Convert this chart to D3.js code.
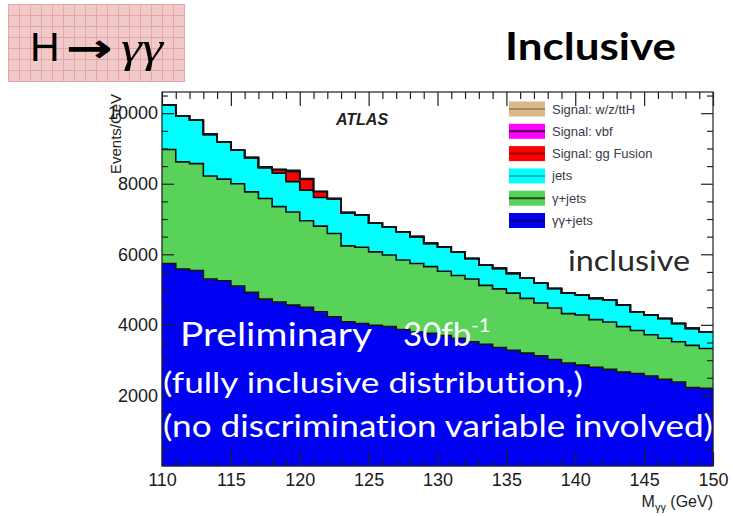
<!DOCTYPE html>
<html>
<head>
<meta charset="utf-8">
<script src="https://cdn.jsdelivr.net/npm/d3@7"></script>
<style>
  body { margin: 0; background: #fff; }
  svg { display: block; }
  text { font-variant-ligatures: none; }
</style>
</head>
<body>
<svg id="chart" width="733" height="516"></svg>
<script>
// Diphoton invariant mass, 1 GeV bins from 110 to 150 GeV (lower edges)
const binLow = [110,111,112,113,114,115,116,117,118,119,120,121,122,123,124,125,126,127,128,129,
                130,131,132,133,134,135,136,137,138,139,140,141,142,143,144,145,146,147,148,149];

// Events/GeV per bin for each stacked component (bottom to top)
const diphotonJets = [5740,5580,5540,5300,5250,5100,4920,4730,4650,4560,4500,4370,4230,4090,4040,3990,3950,3870,3800,3760,
                      3700,3620,3520,3450,3360,3280,3200,3120,3020,2920,2860,2800,2740,2660,2620,2550,2460,2380,2220,2200];
const photonJets   = [3230,3040,3030,2920,2880,2900,2850,2850,2700,2640,2450,2430,2360,2150,2160,2080,2030,1970,1940,1890,
                      1820,1780,1780,1670,1660,1620,1550,1500,1460,1400,1420,1350,1340,1290,1220,1170,1160,1140,1200,1130];
const jets         = [1260,1300,1230,1180,1060,950,970,870,950,860,870,810,970,940,910,810,800,800,760,660,
                      690,670,580,570,580,560,570,560,550,580,560,600,620,610,530,560,560,520,480,470];
const signalGG     = [0,0,0,0,0,0,0,20,100,280,300,170,20,0,0,0,0,0,0,0,
                      0,0,0,0,0,0,0,0,0,0,0,0,0,0,0,0,0,0,0,0];
const signalVBF    = [0,0,0,0,0,0,0,0,0,30,20,0,0,0,0,0,0,0,0,0,
                      0,0,0,0,0,0,0,0,0,0,0,0,0,0,0,0,0,0,0,0];
const signalVH     = [0,0,0,0,0,0,0,0,0,10,10,0,0,0,0,0,0,0,0,0,
                      0,0,0,0,0,0,0,0,0,0,0,0,0,0,0,0,0,0,0,0];

const seriesKeys   = ["diphotonJets","photonJets","jets","signalGG","signalVBF","signalVH"];
const seriesLabels = ["γγ+jets","γ+jets","jets","Signal: gg Fusion","Signal: vbf","Signal: w/z/ttH"];
const seriesColors = ["#0000f2","#58d258","#00ffff","#ff0000","#ff00ff","#d9b98c"];
const legendLineColors = ["#000070","#1e4a1e","#10b8b8","#a00000","#400040","#a8875c"];

const xMajorTicks = [110,115,120,125,130,135,140,145,150];
const yMajorTicks = [2000,4000,6000,8000,10000];

// ---------------------------------------------------------------------------
const svg = d3.select("#chart");
const W = 733, H = 516;
const plot = { left: 162, right: 713, top: 92, bottom: 466 };

svg.append("rect").attr("width", W).attr("height", H).attr("fill", "#fff");

const x = d3.scaleLinear().domain([110, 150]).range([plot.left, plot.right]);
const y = d3.scaleLinear().domain([0, 10600]).range([plot.bottom, plot.top]);

// Table of bins with all components
const table = binLow.map((lo, i) => ({
  lo, hi: lo + 1,
  diphotonJets: diphotonJets[i], photonJets: photonJets[i], jets: jets[i],
  signalGG: signalGG[i], signalVBF: signalVBF[i], signalVH: signalVH[i]
}));
const stacked = d3.stack().keys(seriesKeys)(table);

// Each bin contributes two points so the area/line are histogram steps
function stepPoints(layer) {
  const pts = [];
  layer.forEach(d => {
    pts.push({ e: d.data.lo, y0: d[0], y1: d[1] });
    pts.push({ e: d.data.hi, y0: d[0], y1: d[1] });
  });
  return pts;
}
const area = d3.area().x(p => x(p.e)).y0(p => y(p.y0)).y1(p => y(p.y1));
const topLine = d3.line().x(p => x(p.e)).y(p => y(p.y1));

const gHist = svg.append("g");
stacked.forEach((layer, k) => {
  gHist.append("path")
    .attr("d", area(stepPoints(layer)))
    .attr("fill", seriesColors[k])
    .attr("stroke", seriesColors[k])
    .attr("stroke-width", 0.6);
});
stacked.forEach(layer => {
  gHist.append("path")
    .attr("d", topLine(stepPoints(layer)))
    .attr("fill", "none")
    .attr("stroke", "#111")
    .attr("stroke-width", 1.6);
});

// Frame and inward ticks on all four sides
const axisFont = "'Liberation Sans', Arial, sans-serif";
const xMinor = binLow.filter(v => v % 5 !== 0);
const yMinor = d3.range(500, 10600, 500).filter(v => v % 2000 !== 0);

function styleAxis(g) {
  g.select(".domain").remove();
  g.selectAll("line").attr("stroke", "#222").attr("stroke-width", 1.2);
  g.selectAll("text").attr("fill", "#1a1a1a").attr("font-family", axisFont).attr("font-size", 18);
}
svg.append("g").attr("transform", `translate(0,${plot.bottom})`)
  .call(d3.axisBottom(x).tickValues(xMajorTicks).tickSizeInner(-14).tickSizeOuter(0).tickPadding(7).tickFormat(d3.format("d")))
  .call(styleAxis);
svg.append("g").attr("transform", `translate(0,${plot.bottom})`)
  .call(d3.axisBottom(x).tickValues(xMinor).tickSizeInner(-7).tickSizeOuter(0).tickFormat(""))
  .call(styleAxis);
svg.append("g").attr("transform", `translate(0,${plot.top})`)
  .call(d3.axisTop(x).tickValues(xMajorTicks).tickSizeInner(-14).tickSizeOuter(0).tickFormat(""))
  .call(styleAxis);
svg.append("g").attr("transform", `translate(0,${plot.top})`)
  .call(d3.axisTop(x).tickValues(xMinor).tickSizeInner(-7).tickSizeOuter(0).tickFormat(""))
  .call(styleAxis);

// y-axis title, drawn beneath the tick labels
svg.append("text")
  .attr("transform", `translate(121,${plot.top + 2}) rotate(-90)`)
  .attr("text-anchor", "end")
  .attr("font-family", axisFont).attr("font-size", 15).attr("fill", "#222")
  .text("Events/GeV");

svg.append("g").attr("transform", `translate(${plot.left},0)`)
  .call(d3.axisLeft(y).tickValues(yMajorTicks).tickSizeInner(-12).tickSizeOuter(0).tickPadding(4).tickFormat(d3.format("d")))
  .call(styleAxis);
svg.append("g").attr("transform", `translate(${plot.left},0)`)
  .call(d3.axisLeft(y).tickValues(yMinor).tickSizeInner(-6).tickSizeOuter(0).tickFormat(""))
  .call(styleAxis);
svg.append("g").attr("transform", `translate(${plot.right},0)`)
  .call(d3.axisRight(y).tickValues(yMajorTicks).tickSizeInner(-12).tickSizeOuter(0).tickFormat(""))
  .call(styleAxis);
svg.append("g").attr("transform", `translate(${plot.right},0)`)
  .call(d3.axisRight(y).tickValues(yMinor).tickSizeInner(-6).tickSizeOuter(0).tickFormat(""))
  .call(styleAxis);

svg.append("rect")
  .attr("x", plot.left).attr("y", plot.top)
  .attr("width", plot.right - plot.left).attr("height", plot.bottom - plot.top)
  .attr("fill", "none").attr("stroke", "#222").attr("stroke-width", 1.2);

// x-axis title
const xTitle = svg.append("text")
  .attr("x", plot.right).attr("y", 507)
  .attr("text-anchor", "end")
  .attr("font-family", axisFont).attr("font-size", 16).attr("fill", "#222");
xTitle.append("tspan").text("M");
xTitle.append("tspan").attr("font-size", 11).attr("dy", 4).text("γγ");
xTitle.append("tspan").attr("dy", -4).text(" (GeV)");

// ATLAS label
svg.append("text")
  .attr("x", 362).attr("y", 125).attr("text-anchor", "middle")
  .attr("font-family", axisFont).attr("font-size", 16)
  .attr("font-weight", "bold").attr("font-style", "italic").attr("fill", "#222")
  .text("ATLAS");

// Legend (top entry is the last stacked component)
const legend = svg.append("g");
const legendOrder = d3.range(seriesKeys.length).reverse();
legendOrder.forEach((k, row) => {
  const cy = 109 + row * 22.3;
  legend.append("rect")
    .attr("x", 509).attr("y", cy - 7.5).attr("width", 36).attr("height", 15)
    .attr("fill", seriesColors[k]);
  legend.append("line")
    .attr("x1", 509).attr("x2", 545).attr("y1", cy).attr("y2", cy)
    .attr("stroke", legendLineColors[k]).attr("stroke-width", 2);
  legend.append("text")
    .attr("x", 552).attr("y", cy + 4.5)
    .attr("font-family", axisFont).attr("font-size", 13).attr("fill", "#3a3a4a")
    .text(seriesLabels[k]);
});

// "inclusive" tag inside the frame
const annoFont = "Lato, 'Open Sans', sans-serif";
svg.append("text")
  .attr("x", 568).attr("y", 271)
  .attr("font-family", annoFont).attr("font-size", 29).attr("fill", "#2a2a2a")
  .attr("textLength", 122).attr("lengthAdjust", "spacingAndGlyphs")
  .text("inclusive");

// White overlay notes on the histogram
const notes = svg.append("g").attr("fill", "#fff").attr("font-family", annoFont);
notes.append("text").attr("x", 180).attr("y", 346).attr("font-size", 33)
  .attr("textLength", 192).attr("lengthAdjust", "spacingAndGlyphs").text("Preliminary");
const lumi = notes.append("text").attr("x", 403).attr("y", 346).attr("font-size", 33);
lumi.append("tspan").text("30fb");
lumi.append("tspan").attr("font-size", 20).attr("dy", -14).text("-1");
notes.append("text").attr("x", 163).attr("y", 393).attr("font-size", 29)
  .attr("textLength", 420).attr("lengthAdjust", "spacingAndGlyphs").text("(fully inclusive distribution,)");
notes.append("text").attr("x", 163).attr("y", 437).attr("font-size", 30)
  .attr("textLength", 550).attr("lengthAdjust", "spacingAndGlyphs").text("(no discrimination variable involved)");

// Page title
svg.append("text")
  .attr("x", 505).attr("y", 60)
  .attr("font-family", "Lato, 'Open Sans', sans-serif").attr("font-size", 38)
  .attr("font-weight", "bold").attr("fill", "#000")
  .attr("textLength", 171).attr("lengthAdjust", "spacingAndGlyphs")
  .text("Inclusive");

// Channel box with a pink grid background
const defs = svg.append("defs");
const pat = defs.append("pattern").attr("id", "grid")
  .attr("width", 11).attr("height", 11).attr("patternUnits", "userSpaceOnUse")
  .attr("x", 8).attr("y", 4);
pat.append("rect").attr("width", 11).attr("height", 11).attr("fill", "#f2c9c9");
pat.append("path").attr("d", "M0,0.5H11M0.5,0V11").attr("stroke", "#e2a6a6").attr("stroke-width", 1);
svg.append("rect").attr("x", 8).attr("y", 4).attr("width", 177).attr("height", 78).attr("fill", "url(#grid)");

const chanG = svg.append("g").attr("fill", "#000");
chanG.append("text").attr("x", 30).attr("y", 61)
  .attr("font-family", axisFont).attr("font-size", 41).text("H");
chanG.append("text").attr("x", 66).attr("y", 62)
  .attr("font-family", "'DejaVu Sans', sans-serif").attr("font-weight", "bold").attr("font-size", 40)
  .attr("textLength", 47).attr("lengthAdjust", "spacingAndGlyphs").text("→");
chanG.append("text").attr("x", 121).attr("y", 62)
  .attr("font-family", "'Liberation Serif', serif").attr("font-style", "italic").attr("font-size", 44)
  .attr("textLength", 42).attr("lengthAdjust", "spacingAndGlyphs").text("γγ");
</script>
</body>
</html>
